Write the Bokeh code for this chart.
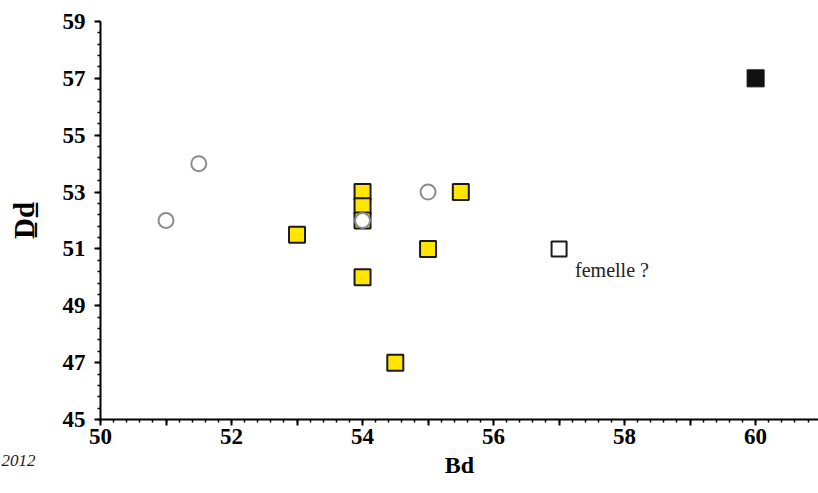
from bokeh.plotting import figure
from bokeh.models import FixedTicker, Label
from bokeh.embed import file_html
from bokeh.resources import INLINE

# --- data ---
yellow_bd = [54, 54, 54, 53, 54, 55, 55.5, 54.5]
yellow_dd = [53, 52.5, 52, 51.5, 50, 51, 53, 47]

grey_bd = [51, 51.5, 55, 54]
grey_dd = [52, 54, 53, 52]

female_bd = [57]
female_dd = [51]
female_label = "femelle ?"

black_bd = [60]
black_dd = [57]

x_major = [50, 51, 52, 53, 54, 55, 56, 57, 58, 59, 60, 61]
x_labels = {50: "50", 51: "", 52: "52", 53: "", 54: "54", 55: "", 56: "56",
            57: "", 58: "58", 59: "", 60: "60", 61: ""}
y_major = [45, 47, 49, 51, 53, 55, 57, 59]

x_title = "Bd"
y_title = "D\u0332d\u0332"
source_note = "2012"

FONT = "Liberation Serif"

p = figure(width=818, height=493, output_backend="svg", toolbar_location=None,
           x_range=(50, 60.96), y_range=(45, 59))
p.min_border_left = 100
p.min_border_right = 0
p.min_border_top = 21
p.min_border_bottom = 74
p.outline_line_color = None
p.xgrid.visible = False
p.ygrid.visible = False
p.background_fill_color = "white"
p.border_fill_color = "white"

x_minor = [round(50 + 0.2 * i, 2) for i in range(0, 56)]
y_minor = [round(45 + 0.4 * i, 2) for i in range(0, 36)]
p.xaxis.ticker = FixedTicker(ticks=x_major, minor_ticks=x_minor)
p.yaxis.ticker = FixedTicker(ticks=y_major, minor_ticks=y_minor)
p.xaxis.major_label_overrides = {k: v for k, v in x_labels.items()}

for ax in (p.xaxis, p.yaxis):
    ax.axis_line_color = "black"
    ax.axis_line_width = 2
    ax.major_tick_line_color = "black"
    ax.major_tick_line_width = 2
    ax.minor_tick_line_color = "black"
    ax.minor_tick_line_width = 1.5
    ax.major_tick_in = 0
    ax.major_tick_out = 6
    ax.minor_tick_in = 0
    ax.minor_tick_out = 3
    ax.major_label_text_font = FONT
    ax.major_label_text_font_style = "bold"
    ax.major_label_text_font_size = "23px"
    ax.major_label_text_color = "black"
    ax.axis_label_text_font = FONT
    ax.axis_label_text_font_style = "bold"
    ax.axis_label_text_color = "black"

p.xaxis.major_label_standoff = 3
p.yaxis.major_label_standoff = 9
p.xaxis.axis_label = x_title
p.yaxis.axis_label = y_title
p.xaxis.axis_label_text_font_size = "24px"
p.yaxis.axis_label_text_font_size = "29px"
p.xaxis.axis_label_standoff = 5
p.yaxis.axis_label_standoff = 20

# grey open circles (drawn first except the one on top of yellow)
p.scatter(grey_bd[:3], grey_dd[:3], marker="circle", size=15,
          fill_color="white", line_color="#8c8c8c", line_width=2)

# yellow squares
p.scatter(yellow_bd, yellow_dd, marker="square", size=16,
          fill_color="#FFE500", line_color="#1a1a1a", line_width=2)

# circle on top of the yellow squares
p.scatter(grey_bd[3:], grey_dd[3:], marker="circle", size=15,
          fill_color="white", line_color="#8c8c8c", line_width=2)

# female (open square)
p.scatter(female_bd, female_dd, marker="square", size=15,
          fill_color="white", line_color="#1a1a1a", line_width=2)

# black square
p.scatter(black_bd, black_dd, marker="square", size=17,
          fill_color="#111111", line_color="#111111", line_width=1)

p.add_layout(Label(x=female_bd[0], y=female_dd[0], text=female_label,
                   x_offset=16, y_offset=-10, text_baseline="top",
                   text_font=FONT, text_font_size="20px", text_color="#222222"))

p.add_layout(Label(x=-99, y=31, x_units="screen", y_units="screen",
                   text=source_note, text_baseline="alphabetic",
                   text_font=FONT, text_font_style="italic",
                   text_font_size="17px", text_color="#222222"), "below")

open("out.html", "w").write(file_html(p, INLINE))
